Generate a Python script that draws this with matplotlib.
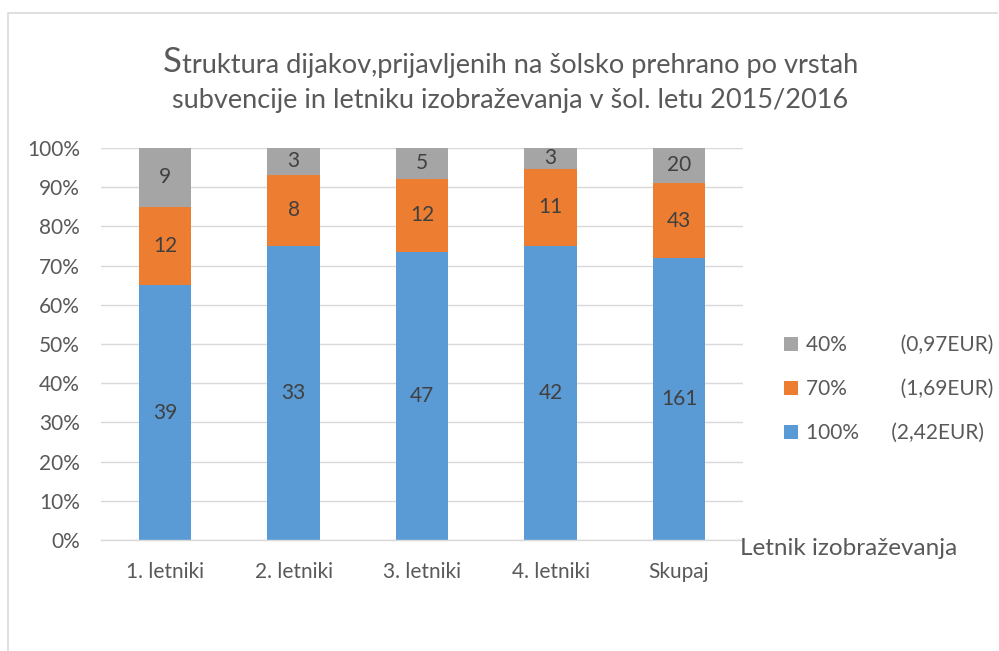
import matplotlib
matplotlib.use("Agg")
import matplotlib.pyplot as plt
from matplotlib.lines import Line2D
import numpy as np

plt.rcParams['font.family'] = ['Lato', 'DejaVu Sans']

categories = ["1. letniki", "2. letniki", "3. letniki", "4. letniki", "Skupaj"]
full = [39, 33, 47, 42, 161]      # 100% (2,42EUR)
mid = [12, 8, 12, 11, 43]         # 70% (1,69EUR)
low = [9, 3, 5, 3, 20]            # 40% (0,97EUR)
series_names = ["100%      (2,42EUR)", "70%          (1,69EUR)", "40%          (0,97EUR)"]
colors = ["#5b9bd5", "#ed7d31", "#a5a5a5"]
txt = "#595959"

counts = np.array([full, mid, low], dtype=float)
shares = counts / counts.sum(axis=0) * 100

fig = plt.figure(figsize=(9.99, 6.51), dpi=100)
ax = fig.add_axes([0.101, 0.1705, 0.643, 0.6022])

x = np.arange(len(categories))
bottom = np.zeros(len(categories))
bars = []
for i in range(3):
    b = ax.bar(x, shares[i], 0.41, bottom=bottom, color=colors[i],
               linewidth=0, label=series_names[i], zorder=2)
    bars.append(b)
    for xi, s, c, bt in zip(x, shares[i], counts[i], bottom):
        ax.text(xi, bt + s / 2, "%d" % c, ha="center", va="center",
                fontsize=15, color="#404040", zorder=3)
    bottom += shares[i]

ax.set_xlim(-0.5, 4.5)
ax.set_ylim(0, 100)
ax.set_yticks(range(0, 101, 10))
ax.set_yticklabels(["%d%%" % v for v in range(0, 101, 10)])
ax.set_xticks(x)
ax.set_xticklabels(categories)
ax.tick_params(axis="both", length=0, labelsize=15, colors=txt)
ax.tick_params(axis="x", pad=16)
ax.tick_params(axis="y", pad=15)
ax.yaxis.grid(True, color="#d9d9d9", linewidth=1, zorder=0)
ax.set_axisbelow(True)
for sp in ["top", "right", "left"]:
    ax.spines[sp].set_visible(False)
ax.spines["bottom"].set_color("#d9d9d9")
ax.spines["bottom"].set_linewidth(1)

handles = [bars[2], bars[1], bars[0]]
leg = fig.legend(handles, [series_names[2], series_names[1], series_names[0]],
                 loc="center left", bbox_to_anchor=(0.785, 0.4025), frameon=False,
                 fontsize=15, labelcolor=txt, handlelength=0.65, handleheight=0.65,
                 handletextpad=0.4, labelspacing=1.15, borderpad=0, borderaxespad=0)

fig.text(0.741, 0.158, "Letnik izobraževanja", fontsize=17.5, color=txt,
         ha="left", va="center")

# title, with a larger first letter
s = fig.text(0.163, 0.89, "S", fontsize=25, color=txt, ha="left", va="baseline")
ax.annotate("truktura dijakov,prijavljenih na šolsko prehrano po vrstah",
            xy=(1, 0), xycoords=s, xytext=(0, 0), textcoords="offset points",
            fontsize=19.6, color=txt, ha="left", va="bottom")
fig.text(0.511, 0.834, "subvencije in letniku izobraževanja v šol. letu 2015/2016",
         fontsize=19.5, color=txt, ha="center", va="baseline")

# chart frame (top and left edges only are visible)
fig.add_artist(Line2D([0.008, 0.008, 0.998], [0.0, 0.98, 0.98], transform=fig.transFigure,
                      color="#d9d9d9", linewidth=1.2))

fig.savefig("out.png", dpi=100)
